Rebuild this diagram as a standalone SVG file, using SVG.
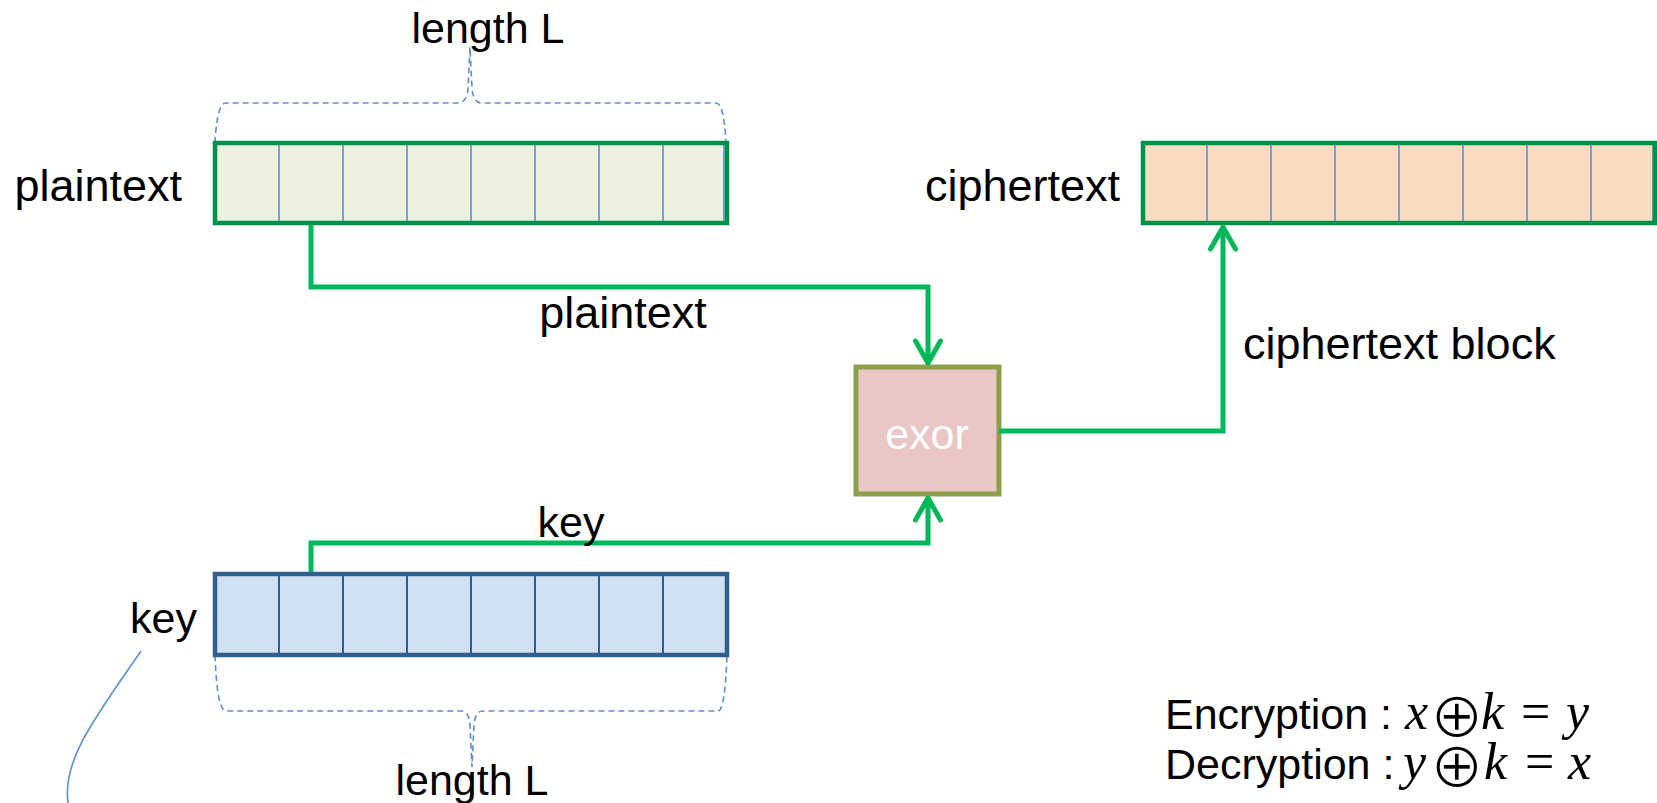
<svg xmlns="http://www.w3.org/2000/svg" width="1657" height="803" viewBox="0 0 1657 803">
  <style>
    .lbl { font-family: "Liberation Sans", Arial, sans-serif; font-size: 45px; fill: #000; }
    .eq { font-family: "Liberation Sans", Arial, sans-serif; font-size: 43px; fill: #000; }
    .math { font-family: "Liberation Serif", "Times New Roman", serif; font-style: italic; font-size: 52px; fill: #000; }
    .op { font-family: "Liberation Serif", "Times New Roman", serif; font-size: 52px; fill: #000; }
    .oplus { font-family: "DejaVu Sans", sans-serif; font-size: 64px; fill: #000; stroke: #ffffff; stroke-width: 1.6; }
    .conn { fill: none; stroke: #00b858; stroke-width: 5; stroke-linejoin: miter; }
    .brace { fill: none; stroke: #5b8fd0; stroke-width: 1.6; stroke-dasharray: 6 4; }
    .cellg { fill: none; stroke: #5b8fd0; stroke-width: 1.6; }
    .cellb { fill: none; stroke: #2f5f8f; stroke-width: 2; }
  </style>
  <defs>
    <marker id="chev" markerUnits="userSpaceOnUse" viewBox="-30 -20 40 40" markerWidth="40" markerHeight="40" refX="0" refY="0" orient="auto" overflow="visible">
      <path d="M-22,-12.5 L0,0 L-22,12.5" fill="none" stroke="#00b858" stroke-width="5" stroke-linecap="round" stroke-linejoin="round"/>
    </marker>
  </defs>
  <rect width="1657" height="803" fill="#ffffff"/>

  <!-- braces -->
  <g id="braces">
    <path class="brace" d="M215,143 Q217,103 226,103 L458,103 Q467,103 468,88 L470,47 L472,88 Q473,103 482,103 L716,103 Q724,103 726,143"/>
    <path class="brace" d="M215,655 Q217,711 226,711 L461,711 Q469,711 470,725 L472,767 L474,725 Q475,711 483,711 L718,711 Q725,711 727,655"/>
    <path d="M141,651 C95,718 62,760 68,803" fill="none" stroke="#5b8fd0" stroke-width="1.6"/>
  </g>

  <!-- plaintext block -->
  <g id="plaintext-block">
    <rect x="215" y="143" width="512" height="80" fill="#ebf1de"/>
    <path class="cellg" d="M279,143V223M343,143V223M407,143V223M471,143V223M535,143V223M599,143V223M663,143V223M724,143V223"/>
    <rect x="215" y="143" width="512" height="80" fill="none" stroke="#00904a" stroke-width="4.5"/>
  </g>

  <!-- ciphertext block -->
  <g id="ciphertext-block">
    <rect x="1143" y="143" width="512" height="80" fill="#fbdcc0"/>
    <path class="cellg" d="M1207,143V223M1271,143V223M1335,143V223M1399,143V223M1463,143V223M1527,143V223M1591,143V223M1653,143V223"/>
    <rect x="1143" y="143" width="512" height="80" fill="none" stroke="#00904a" stroke-width="4.5"/>
  </g>

  <!-- key block -->
  <g id="key-block">
    <rect x="215" y="574" width="512" height="81" fill="#d0e1f3"/>
    <path class="cellb" d="M279,574V655M343,574V655M407,574V655M471,574V655M535,574V655M599,574V655M663,574V655"/>
    <rect x="215" y="574" width="512" height="81" fill="none" stroke="#2f5f8f" stroke-width="4.5"/>
  </g>

  <!-- exor -->
  <g id="exor">
    <rect x="856" y="367" width="143" height="127" fill="#eac6c6" stroke="#8ca04c" stroke-width="5"/>
    <text x="927" y="449" text-anchor="middle" style="font-family:'Liberation Sans',Arial,sans-serif;font-size:43px;fill:#ffffff">exor</text>
  </g>

  <!-- connectors -->
  <g id="connectors">
    <path class="conn" d="M311,225 L311,287 L928,287 L928,363" marker-end="url(#chev)"/>
    <path class="conn" d="M311,572 L311,543 L928,543 L928,498" marker-end="url(#chev)"/>
    <path class="conn" d="M999,431 L1223,431 L1223,227" marker-end="url(#chev)"/>
  </g>

  <!-- labels -->
  <g id="labels">
    <text class="lbl" x="488" y="43" text-anchor="middle" style="font-size:43px">length L</text>
    <text class="lbl" x="182" y="201" text-anchor="end">plaintext</text>
    <text class="lbl" x="1120" y="201" text-anchor="end">ciphertext</text>
    <text class="lbl" x="623" y="328" text-anchor="middle">plaintext</text>
    <text class="lbl" x="1243" y="359">ciphertext block</text>
    <text class="lbl" x="571" y="537" text-anchor="middle" style="font-size:43px">key</text>
    <text class="lbl" x="197" y="633" text-anchor="end" style="font-size:43px">key</text>
    <text class="lbl" x="472" y="795" text-anchor="middle" style="font-size:43px">length L</text>
  </g>

  <!-- equations -->
  <g id="equations">
    <text class="eq" x="1165" y="729">Encryption :</text>
    <text class="math" x="1405" y="729">x</text>
    <text class="oplus" x="1430" y="737">⊕</text>
    <text class="math" x="1481" y="729">k</text>
    <text class="op" x="1521" y="729">=</text>
    <text class="math" x="1566" y="729">y</text>

    <text class="eq" x="1165" y="779">Decryption :</text>
    <text class="math" x="1403" y="779">y</text>
    <text class="oplus" x="1430" y="787">⊕</text>
    <text class="math" x="1484" y="779">k</text>
    <text class="op" x="1525" y="779">=</text>
    <text class="math" x="1568" y="779">x</text>
  </g>
</svg>
